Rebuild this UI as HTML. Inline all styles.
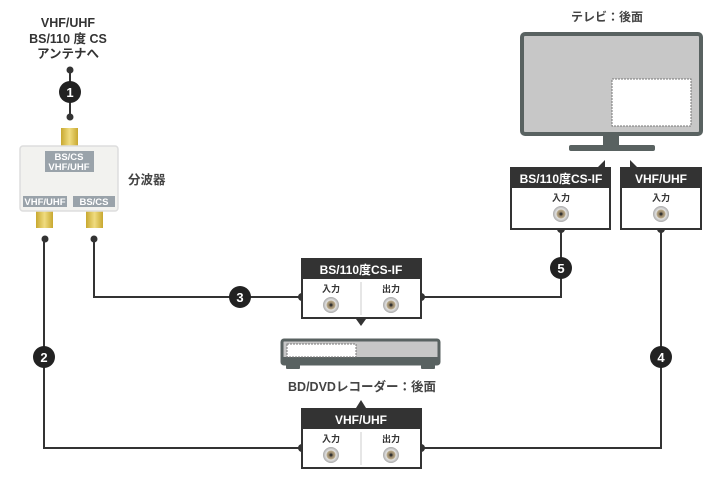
<!DOCTYPE html>
<html><head><meta charset="utf-8"><style>
html,body{margin:0;padding:0;background:#fff}
svg{display:block}
text{font-family:"Liberation Sans","Noto Sans CJK JP",sans-serif;font-weight:bold}
</style></head><body>
<svg width="720" height="480" viewBox="0 0 720 480" xmlns="http://www.w3.org/2000/svg">
<defs>
<radialGradient id="cn" cx="50%" cy="50%" r="50%">
<stop offset="0" stop-color="#555"/><stop offset="0.2" stop-color="#8a7a60"/><stop offset="0.5" stop-color="#b8a888"/><stop offset="0.62" stop-color="#e4e4e4"/><stop offset="1" stop-color="#a8a8a8"/>
</radialGradient>
<linearGradient id="gold" x1="0" x2="1"><stop offset="0" stop-color="#c8a830"/><stop offset="0.5" stop-color="#f0dc80"/><stop offset="1" stop-color="#c8a830"/></linearGradient>
<g id="conn"><circle r="8" fill="url(#cn)"/><circle r="1.5" fill="#333"/></g>
</defs>

<g fill="#333" font-size="12.5" text-anchor="middle">
<text x="68" y="27">VHF/UHF</text>
<text x="68" y="43">BS/110 度 CS</text>
<text x="68" y="58">アンテナへ</text>
</g>
<g stroke="#333" stroke-width="2" fill="none">
<line x1="70" y1="70" x2="70" y2="117"/>
<polyline points="44,237 44,448 305,448"/>
<polyline points="94,237 94,297 305,297"/>
<polyline points="421,297 561,297 561,229"/>
<polyline points="421,448 661,448 661,229"/>
</g>
<g fill="#333">
<circle cx="70" cy="70" r="3.5"/><circle cx="70" cy="117" r="3.5"/>
<circle cx="45" cy="239" r="3.5"/><circle cx="94" cy="239" r="3.5"/>
<circle cx="302" cy="297" r="4"/><circle cx="421" cy="297" r="4"/>
<circle cx="302" cy="448" r="4"/><circle cx="421" cy="448" r="4"/>
<circle cx="561" cy="229" r="4"/><circle cx="661" cy="229" r="4"/>
</g>
<g font-size="13" text-anchor="middle">
<circle cx="70" cy="92" r="11" fill="#222"/><text x="70" y="97" fill="#fff">1</text>
<circle cx="44" cy="357" r="11" fill="#222"/><text x="44" y="362" fill="#fff">2</text>
<circle cx="240" cy="297" r="11" fill="#222"/><text x="240" y="302" fill="#fff">3</text>
<circle cx="661" cy="357" r="11" fill="#222"/><text x="661" y="362" fill="#fff">4</text>
<circle cx="561" cy="268" r="11" fill="#222"/><text x="561" y="273" fill="#fff">5</text>
</g>

<rect x="61" y="128" width="17" height="20" fill="url(#gold)"/>
<rect x="36" y="210" width="17" height="18" fill="url(#gold)"/>
<rect x="86" y="210" width="17" height="18" fill="url(#gold)"/>
<rect x="20" y="146" width="98" height="65" rx="3" fill="#f2f2ef" stroke="#ddd" stroke-width="1.5"/>
<rect x="45" y="151" width="49" height="21" fill="#9aa3aa"/>
<rect x="23" y="196" width="44" height="11" fill="#9aa3aa"/>
<rect x="73" y="196" width="42" height="11" fill="#9aa3aa"/>
<g fill="#fff" font-size="9.5" text-anchor="middle">
<text x="69" y="160">BS/CS</text><text x="69" y="170">VHF/UHF</text>
<text x="45" y="205">VHF/UHF</text><text x="94" y="205">BS/CS</text>
</g>
<text x="128" y="184" fill="#444" font-size="12.5">分波器</text>

<text x="607" y="21" fill="#444" font-size="12" text-anchor="middle">テレビ：後面</text>
<rect x="522" y="34" width="179" height="100" rx="3" fill="#c7c7c7" stroke="#596261" stroke-width="4"/>
<rect x="612" y="79" width="79" height="47" fill="#fff" stroke="#777" stroke-width="1" stroke-dasharray="2,1"/>
<rect x="603" y="135" width="16" height="12" fill="#596261"/>
<rect x="569" y="145" width="86" height="6" rx="2" fill="#596261"/>

<polygon points="597,168 605,160 605,168" fill="#333"/>
<polygon points="630,168 630,160 638,168" fill="#333"/>
<rect x="511" y="168" width="99" height="61" fill="#fff" stroke="#333" stroke-width="2"/>
<rect x="511" y="168" width="99" height="20" fill="#333"/>
<rect x="621" y="168" width="80" height="61" fill="#fff" stroke="#333" stroke-width="2"/>
<rect x="621" y="168" width="80" height="20" fill="#333"/>
<g fill="#fff" font-size="12" text-anchor="middle">
<text x="561" y="183">BS/110度CS-IF</text><text x="661" y="183">VHF/UHF</text>
</g>
<g fill="#333" font-size="9" text-anchor="middle">
<text x="561" y="201">入力</text><text x="661" y="201">入力</text>
</g>
<use href="#conn" x="561" y="214"/><use href="#conn" x="661" y="214"/>

<rect x="302" y="259" width="119" height="59" fill="#fff" stroke="#333" stroke-width="2"/>
<rect x="302" y="259" width="119" height="20" fill="#333"/>
<line x1="361" y1="282" x2="361" y2="315" stroke="#ccc" stroke-width="1"/>
<text x="361" y="274" fill="#fff" font-size="12" text-anchor="middle">BS/110度CS-IF</text>
<g fill="#333" font-size="9" text-anchor="middle"><text x="331" y="292">入力</text><text x="391" y="292">出力</text></g>
<use href="#conn" x="331" y="305"/><use href="#conn" x="391" y="305"/>
<polygon points="356,319 366,319 361,326" fill="#333"/>

<rect x="282" y="340" width="157" height="24" rx="2" fill="#c7c7c7" stroke="#596261" stroke-width="3"/>
<rect x="282" y="357" width="157" height="7" fill="#596261"/>
<rect x="286" y="363" width="14" height="6" rx="1" fill="#596261"/><rect x="421" y="363" width="14" height="6" rx="1" fill="#596261"/>
<rect x="287" y="344" width="69" height="13" fill="#fff" stroke="#777" stroke-width="1" stroke-dasharray="2,1"/>
<text x="362" y="391" fill="#444" font-size="12.5" text-anchor="middle">BD/DVDレコーダー：後面</text>
<polygon points="356,408 366,408 361,400" fill="#333"/>

<rect x="302" y="409" width="119" height="59" fill="#fff" stroke="#333" stroke-width="2"/>
<rect x="302" y="409" width="119" height="20" fill="#333"/>
<line x1="361" y1="432" x2="361" y2="465" stroke="#ccc" stroke-width="1"/>
<text x="361" y="424" fill="#fff" font-size="12" text-anchor="middle">VHF/UHF</text>
<g fill="#333" font-size="9" text-anchor="middle"><text x="331" y="442">入力</text><text x="391" y="442">出力</text></g>
<use href="#conn" x="331" y="455"/><use href="#conn" x="391" y="455"/>
</svg>
</body></html>
